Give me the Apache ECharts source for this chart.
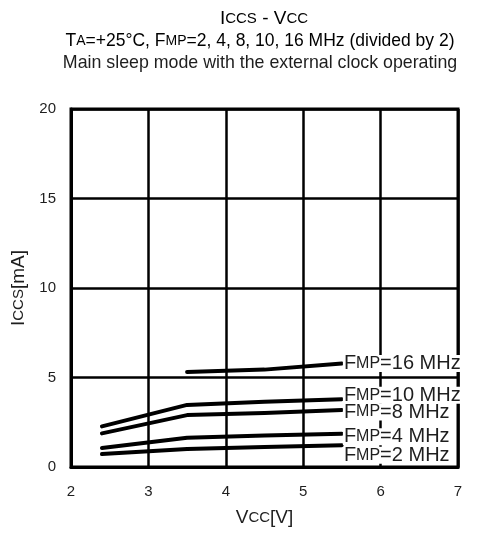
<!DOCTYPE html>
<html lang="en">
<head>
  <meta charset="UTF-8">
  <title>Iccs - Vcc</title>
  <script src="https://cdn.jsdelivr.net/npm/echarts@6/dist/echarts.min.js"></script>
  <style>
    html, body { margin: 0; padding: 0; background: #fff; }
    #chart { width: 502px; height: 534px; }
  </style>
</head>
<body>
  <div id="chart"></div>
<script>
  // supply voltage points (V)
  const vccLow = [2.4, 3.5, 4.5, 5.5];
  const vcc16 = [3.5, 4.5, 5.5];
  // supply current in main sleep mode (mA)
  const iccs2 = [0.72, 1.0, 1.12, 1.22];
  const iccs4 = [1.06, 1.63, 1.76, 1.86];
  const iccs8 = [1.88, 2.90, 3.02, 3.18];
  const iccs10 = [2.27, 3.47, 3.64, 3.79];
  const iccs16 = [5.31, 5.44, 5.78];
  const freqs = ['16', '10', '8', '4', '2'];

  const font = '"Liberation Sans", Arial, Helvetica, sans-serif';
  const ink = '#1e1e1e';

  // small caps pieces (big letter + smaller caps)
  const nameRich = {
    b: { fontSize: 19, fontFamily: font, color: ink },
    s: { fontSize: 15, fontFamily: font, color: ink }
  };
  const subRich = {
    b: { fontSize: 17.5, fontFamily: font, color: ink },
    s: { fontSize: 14, fontFamily: font, color: ink }
  };
  const labelRich = {
    f: { fontSize: 20, fontFamily: font, color: ink, lineHeight: 15 },
    s: { fontSize: 16, fontFamily: font, color: ink, lineHeight: 15 }
  };

  function pairs(xs, ys) {
    return xs.map((x, i) => [x, ys[i]]);
  }

  // top curve first, so lower tags sit on top of the ones above
  const labelShift = [0, -4, 2, 3, 10];
  const curves = [
    pairs(vcc16, iccs16),
    pairs(vccLow, iccs10),
    pairs(vccLow, iccs8),
    pairs(vccLow, iccs4),
    pairs(vccLow, iccs2)
  ];

  const series = curves.map((data, i) => ({
    type: 'line',
    name: freqs[i] + ' MHz',
    data: data,
    symbol: 'none',
    z: 3,
    lineStyle: { color: '#000', width: 4, cap: 'round', join: 'round' },
    endLabel: {
      show: true,
      distance: 1,
      offset: [0, labelShift[i]],
      backgroundColor: '#fff',
      padding: [1, 1, 1, 1],
      formatter: () => '{f|F}{s|MP}{f|=' + freqs[i] + ' MHz}',
      rich: labelRich
    }
  }));

  const chart = echarts.init(document.getElementById('chart'), null, { renderer: 'canvas' });
  chart.setOption({
    animation: false,
    backgroundColor: '#fff',
    grid: {
      left: 71, right: 44, top: 109, bottom: 67,
      show: true, borderColor: '#000', borderWidth: 3
    },
    xAxis: {
      type: 'value',
      min: 2, max: 7, interval: 1,
      name: '{b|V}{s|CC}{b|[V]}',
      nameLocation: 'middle',
      nameGap: 41,
      nameTextStyle: { rich: nameRich },
      axisLine: { show: true, lineStyle: { color: '#000', width: 3 } },
      axisTick: { show: false },
      axisLabel: { margin: 17, fontSize: 15, fontFamily: font, color: ink },
      splitLine: { show: true, lineStyle: { color: '#000', width: 2.5 } }
    },
    yAxis: {
      type: 'value',
      min: 0, max: 20, interval: 5,
      name: '{b|I}{s|CCS}{b|[mA]}',
      nameLocation: 'middle',
      nameGap: 42,
      nameRotate: 90,
      nameTextStyle: { rich: nameRich },
      axisLine: { show: true, lineStyle: { color: '#000', width: 3 } },
      axisTick: { show: false },
      axisLabel: { margin: 15, fontSize: 15, fontFamily: font, color: ink },
      splitLine: { show: true, lineStyle: { color: '#000', width: 2.5 } }
    },
    graphic: [
      {
        type: 'text', x: 264, y: 19,
        style: {
          text: '{b|I}{s|CCS}{b| - V}{s|CC}',
          align: 'center', verticalAlign: 'middle', rich: nameRich
        }
      },
      {
        type: 'text', x: 260, y: 41,
        style: {
          text: '{b|T}{s|A}{b|=+25°C, F}{s|MP}{b|=2, 4, 8, 10, 16 MHz (divided by 2)}',
          align: 'center', verticalAlign: 'middle', rich: subRich
        }
      },
      {
        type: 'text', x: 260, y: 63,
        style: {
          text: 'Main sleep mode with the external clock operating',
          align: 'center', verticalAlign: 'middle',
          font: '17.8px ' + font, fill: ink
        }
      }
    ],
    series: series
  });
</script>
</body>
</html>
